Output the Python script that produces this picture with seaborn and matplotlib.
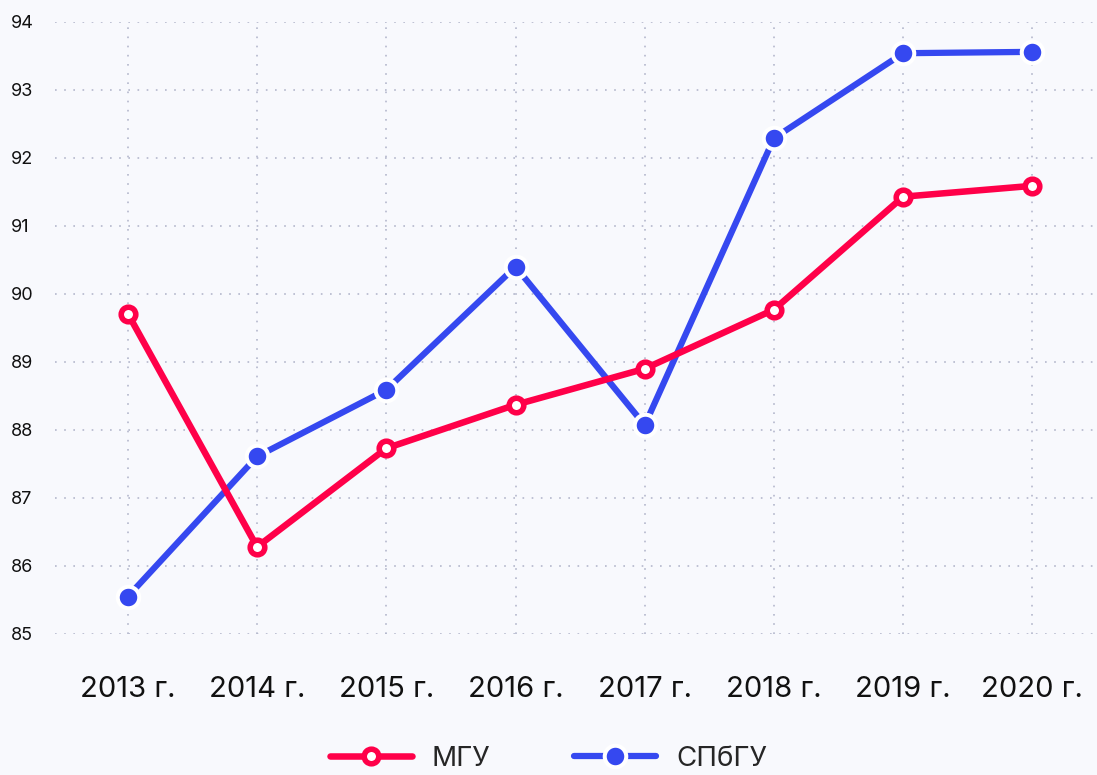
import matplotlib
matplotlib.use("Agg")
import matplotlib.pyplot as plt
import seaborn as sns
import pandas as pd
from matplotlib.lines import Line2D

years = ["2013 г.", "2014 г.", "2015 г.", "2016 г.", "2017 г.", "2018 г.", "2019 г.", "2020 г."]
mgu = [89.71, 86.28, 87.73, 88.37, 88.90, 89.77, 91.43, 91.59]
spbgu = [85.55, 87.61, 88.59, 90.40, 88.07, 92.29, 93.54, 93.56]
yticks = [85, 86, 87, 88, 89, 90, 91, 92, 93, 94]

RED = "#FF0049"
BLUE = "#3548F0"
BG = "#F8F9FD"

sns.set_theme(style="white")
plt.rcParams["font.family"] = ["Inter", "DejaVu Sans"]

fig = plt.figure(figsize=(10.97, 7.75), dpi=100, facecolor=BG)
ax = fig.add_axes([0.05, 0.182, 0.95, 0.7897])
ax.set_facecolor(BG)

df = pd.DataFrame({"x": list(range(len(years))) * 2,
                   "y": spbgu + mgu,
                   "s": ["СПбГУ"] * len(years) + ["МГУ"] * len(years)})

sns.lineplot(data=df[df.s == "СПбГУ"], x="x", y="y", ax=ax, color=BLUE, lw=4.5,
             marker="o", markersize=15.5, markerfacecolor=BLUE, markeredgecolor="white",
             markeredgewidth=2.9, clip_on=False, zorder=3, legend=False)
sns.lineplot(data=df[df.s == "МГУ"], x="x", y="y", ax=ax, color=RED, lw=4.7,
             marker="o", markersize=10.5, markerfacecolor="white", markeredgecolor=RED,
             markeredgewidth=4.0, clip_on=False, zorder=4, legend=False)

ax.set_xlim(-0.565, 7.5)
ax.set_ylim(85, 94)
ax.set_xticks(range(len(years)))
ax.set_xticklabels(years, fontsize=21, color="#111111")
ax.set_yticks(yticks)
ax.set_yticklabels([str(t) for t in yticks], fontsize=13, color="#111111")
ax.tick_params(axis="x", length=0, pad=30)
ax.tick_params(axis="y", length=0, pad=32)
for lab in ax.get_yticklabels():
    lab.set_horizontalalignment("left")
ax.set_xlabel("")
ax.set_ylabel("")
for s in ax.spines.values():
    s.set_visible(False)
ax.grid(True, color="#B4B8CC", linestyle=(0, (1, 4.5)), lw=1.2)
ax.set_axisbelow(True)

handles = [
    Line2D([0], [0], color=RED, lw=4.7, marker="o", markersize=10.5,
           markerfacecolor="white", markeredgecolor=RED, markeredgewidth=4.0),
    Line2D([0], [0], color=BLUE, lw=4.5, marker="o", markersize=15.5,
           markerfacecolor=BLUE, markeredgecolor="white", markeredgewidth=2.9),
]
fig.legend(handles, ["МГУ", "СПбГУ"], loc="center", bbox_to_anchor=(0.5, 0.021),
           ncol=2, frameon=False, fontsize=20, handlelength=2.95, handletextpad=0.72,
           columnspacing=3.0)

fig.savefig("out.png", dpi=100, facecolor=BG)
